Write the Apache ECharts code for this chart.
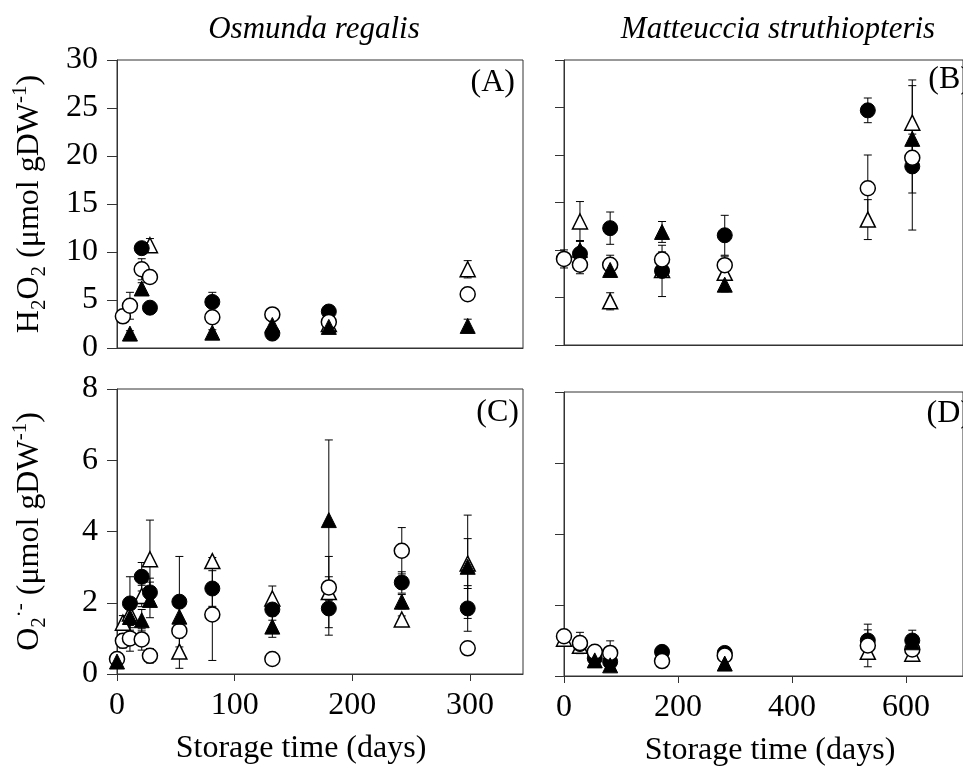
<!DOCTYPE html>
<html><head><meta charset="utf-8">
<script src="https://cdn.jsdelivr.net/npm/echarts@6/dist/echarts.min.js"></script>
<style>html,body{margin:0;padding:0;background:#fff}#c{width:963px;height:776px}</style>
</head><body><div id="c"></div>
<script>
// ---------- data ----------
const speciesTitles = ['Osmunda regalis', 'Matteuccia struthiopteris'];
const panelLabels = ['(A)', '(B)', '(C)', '(D)'];
const xTitle = 'Storage time (days)';

const osmundaDays = [0, 5, 11, 21, 28, 53, 81, 132, 180, 242, 298];
const matteucciaDays = [0, 28, 54, 81, 172, 282, 533, 611];

// Panel A: Osmunda regalis, H2O2
const A_filledCircle     = [null, null, null, 10.4, 4.2, null, 4.8, 1.5, 3.8, null, null];
const A_filledCircleErr  = [null, null, null, 0.5, 0.4, null, 1.0, 0.2, 0.3, null, null];
const A_openCircle       = [null, 3.3, 4.4, 8.2, 7.4, null, 3.2, 3.5, 2.7, null, 5.6];
const A_openCircleErr    = [null, 0.5, 1.4, 1.1, 0.5, null, 0.4, 0.3, 0.3, null, 0.4];
const A_filledTriangle   = [null, null, 1.5, 6.2, null, null, 1.6, 2.4, 2.2, null, 2.3];
const A_filledTriangleErr= [null, null, 0.3, 0.6, null, null, 0.3, 0.4, 0.3, null, 0.7];
const A_openTriangle     = [null, null, null, null, 10.7, null, null, null, 2.5, null, 8.2];
const A_openTriangleErr  = [null, null, null, null, 0.7, null, null, null, 0.3, null, 0.9];

// Panel B: Matteuccia struthiopteris, H2O2
const B_filledCircle     = [null, 9.6, null, 12.3, 7.8, 11.55, 24.7, 18.8];
const B_filledCircleErr  = [null, 0.5, null, 1.7, 2.7, 2.1, 1.3, 2.8];
const B_openCircle       = [9.06, 8.45, null, 8.45, 9.0, 8.4, 16.5, 19.7];
const B_openCircleErr    = [0.95, 0.95, null, 1.0, 0.8, 0.95, 3.5, 7.6];
const B_filledTriangle   = [null, 10.0, null, 7.9, 11.9, 6.35, null, 21.7];
const B_filledTriangleErr= [null, 1.0, null, 0.6, 1.1, 0.75, null, 0.5];
const B_openTriangle     = [null, 13.0, null, 4.6, 7.9, 7.6, 13.2, 23.4];
const B_openTriangleErr  = [null, 2.1, null, 0.9, 0.5, 0.5, 2.1, 4.5];

// Panel C: Osmunda regalis, O2.-
const C_filledCircle     = [null, null, 1.98, 2.73, 2.29, 2.03, 2.4, 1.81, 1.84, 2.57, 1.84];
const C_filledCircleErr  = [null, null, 0.75, 0.4, 0.4, 1.27, 0.5, 0.3, 0.75, 0.3, 0.64];
const C_openCircle       = [0.42, 0.93, 1.0, 0.97, 0.51, 1.21, 1.67, 0.42, 2.43, 3.46, 0.72];
const C_openCircleErr    = [0.1, 0.2, 0.36, 0.3, 0.2, 0.2, 1.29, 0.15, 0.3, 0.65, 0.1];
const C_filledTriangle   = [0.35, null, 1.6, 1.51, 2.08, 1.61, null, 1.33, 4.32, 2.03, 3.01];
const C_filledTriangleErr= [0.1, null, 0.3, 0.3, 0.5, 0.3, null, 0.3, 2.25, 0.2, 1.45];
const C_openTriangle     = [null, 1.44, 1.7, 2.19, 3.22, 0.63, 3.17, 2.12, 2.3, 1.53, 3.1];
const C_openTriangleErr  = [null, 0.2, 0.3, 0.3, 1.1, 0.47, 0.1, 0.35, 1.0, 0.1, 0.7];

// Panel D: Matteuccia struthiopteris, O2.-
const D_filledCircle     = [null, 0.9, 0.5, 0.4, 0.68, 0.65, 1.0, 1.0];
const D_filledCircleErr  = [null, 0.1, 0.1, 0.1, 0.1, 0.1, 0.3, 0.29];
const D_openCircle       = [1.12, 0.93, 0.68, 0.65, 0.42, 0.58, 0.86, 0.75];
const D_openCircleErr    = [0.1, 0.3, 0.1, 0.34, 0.1, 0.1, 0.6, 0.2];
const D_filledTriangle   = [null, null, 0.44, 0.3, null, 0.35, null, 0.95];
const D_filledTriangleErr= [null, null, 0.1, 0.1, null, 0.1, null, 0.1];
const D_openTriangle     = [1.05, 0.85, null, null, null, null, 0.68, 0.63];
const D_openTriangleErr  = [0.1, 0.2, null, null, null, null, 0.1, 0.1];

const osmundaTicks = [0, 100, 200, 300];
const matteucciaTicks = [0, 200, 400, 600];
const h2o2Ticks = [0, 5, 10, 15, 20, 25, 30];
const o2Ticks = [0, 2, 4, 6, 8];

// ---------- chart ----------
const FONT = "'Liberation Serif', 'Times New Roman', serif";
const LINE = '#333';
const chart = echarts.init(document.getElementById('c'), null, {renderer: 'canvas'});

function pts(days, vals) {
  const out = [];
  days.forEach((d, i) => { if (vals[i] != null) out.push([d, vals[i]]); });
  return out;
}
function errPts(days, vals, errs) {
  const out = [];
  days.forEach((d, i) => { if (vals[i] != null && errs[i] != null) out.push([d, vals[i], errs[i]]); });
  return out;
}
function renderErr(params, api) {
  const x = api.value(0), y = api.value(1), e = api.value(2);
  const t = api.coord([x, y + e]);
  const b = api.coord([x, Math.max(0, y - e)]);
  const hw = 4;
  const st = {stroke: '#000', lineWidth: 1};
  return {type: 'group', children: [
    {type: 'line', shape: {x1: t[0], y1: t[1], x2: b[0], y2: b[1]}, style: st},
    {type: 'line', shape: {x1: t[0] - hw, y1: t[1], x2: t[0] + hw, y2: t[1]}, style: st},
    {type: 'line', shape: {x1: b[0] - hw, y1: b[1], x2: b[0] + hw, y2: b[1]}, style: st}
  ]};
}

const markerStyles = {
  filledCircle:   {symbol: 'circle',   itemStyle: {color: '#000', borderColor: '#000', borderWidth: 1, opacity: 1}, z: 4},
  openCircle:     {symbol: 'circle',   itemStyle: {color: '#fff', borderColor: '#000', borderWidth: 1.5, opacity: 1}, z: 5},
  filledTriangle: {symbol: 'triangle', itemStyle: {color: '#000', borderColor: '#000', borderWidth: 1, opacity: 1}, z: 6},
  openTriangle:   {symbol: 'triangle', itemStyle: {color: '#fff', borderColor: '#000', borderWidth: 1.5, opacity: 1}, z: 3}
};

const panels = [
  {idx: 0, days: osmundaDays, sets: {
    filledCircle: [A_filledCircle, A_filledCircleErr], openCircle: [A_openCircle, A_openCircleErr],
    filledTriangle: [A_filledTriangle, A_filledTriangleErr], openTriangle: [A_openTriangle, A_openTriangleErr]}},
  {idx: 1, days: matteucciaDays, sets: {
    filledCircle: [B_filledCircle, B_filledCircleErr], openCircle: [B_openCircle, B_openCircleErr],
    filledTriangle: [B_filledTriangle, B_filledTriangleErr], openTriangle: [B_openTriangle, B_openTriangleErr]}},
  {idx: 2, days: osmundaDays, sets: {
    filledCircle: [C_filledCircle, C_filledCircleErr], openCircle: [C_openCircle, C_openCircleErr],
    filledTriangle: [C_filledTriangle, C_filledTriangleErr], openTriangle: [C_openTriangle, C_openTriangleErr]}},
  {idx: 3, days: matteucciaDays, sets: {
    filledCircle: [D_filledCircle, D_filledCircleErr], openCircle: [D_openCircle, D_openCircleErr],
    filledTriangle: [D_filledTriangle, D_filledTriangleErr], openTriangle: [D_openTriangle, D_openTriangleErr]}}
];

const series = [];
panels.forEach(p => {
  Object.keys(p.sets).forEach(k => {
    const [vals, errs] = p.sets[k];
    series.push({
      type: 'custom', xAxisIndex: p.idx, yAxisIndex: p.idx, renderItem: renderErr,
      data: errPts(p.days, vals, errs), encode: {x: 0, y: 1}, z: 2, silent: true, clip: false
    });
  });
  ['openTriangle', 'filledCircle', 'openCircle', 'filledTriangle'].forEach(k => {
    const [vals] = p.sets[k];
    const ms = markerStyles[k];
    series.push({
      type: 'scatter', name: k, xAxisIndex: p.idx, yAxisIndex: p.idx,
      data: pts(p.days, vals), symbol: ms.symbol, symbolSize: 15,
      itemStyle: ms.itemStyle, z: ms.z, silent: true, clip: false,
      emphasis: {disabled: true}
    });
  });
});

const grids = [
  {left: 117, top: 60, width: 406, height: 288},
  {left: 564, top: 60, width: 411, height: 285},
  {left: 117, top: 389, width: 406, height: 285},
  {left: 564, top: 392, width: 411, height: 284}
].map(g => Object.assign({show: true, borderColor: LINE, borderWidth: 1, backgroundColor: 'transparent'}, g));

const labelStyle = {color: '#000', fontFamily: FONT, fontSize: 32};

function xAxis(i) {
  const left = (i % 2 === 0);
  const bottom = (i >= 2);
  const ticks = left ? osmundaTicks : matteucciaTicks;
  return {
    type: 'value', gridIndex: i, min: 0, max: left ? 345 : 700, interval: ticks[1] - ticks[0],
    axisLine: {show: true, lineStyle: {color: LINE, width: 1}},
    axisTick: {show: bottom, length: 7, lineStyle: {color: LINE}},
    axisLabel: Object.assign({show: bottom, margin: 16, showMaxLabel: false}, labelStyle),
    splitLine: {show: false},
    name: bottom ? xTitle : '', nameLocation: 'middle', nameGap: 59,
    nameTextStyle: Object.assign({}, labelStyle, {padding: left ? [0, 38, 0, 0] : [0, 0, 0, 13]})
  };
}
const richName = {
  n: {fontFamily: FONT, fontSize: 32, color: '#000', lineHeight: 40},
  s: {fontFamily: FONT, fontSize: 21, color: '#000', lineHeight: 22, verticalAlign: 'bottom'},
  p: {fontFamily: FONT, fontSize: 21, color: '#000', lineHeight: 22, verticalAlign: 'top'}
};
function yAxis(i) {
  const left = (i % 2 === 0);
  const top = (i < 2);
  const ticks = top ? h2o2Ticks : o2Ticks;
  let name = '';
  if (left) name = top ? '{n|H}{s|2}{n|O}{s|2}{n| (μmol gDW}{p|-1}{n|)}' : '{n|O}{s|2}{p|·-}{n| (μmol gDW}{p|-1}{n|)}';
  return {
    type: 'value', gridIndex: i, min: 0, max: ticks[ticks.length - 1], interval: ticks[1] - ticks[0],
    axisLine: {show: true, lineStyle: {color: LINE, width: 1}},
    axisTick: {show: true, length: left ? 10 : 9, lineStyle: {color: LINE}},
    axisLabel: Object.assign({show: left, margin: 19}, labelStyle),
    splitLine: {show: false},
    name: name, nameLocation: 'middle', nameRotate: 90, nameGap: 67,
    nameTextStyle: {rich: richName}
  };
}

const graphic = [
  {type: 'text', style: {text: speciesTitles[0], x: 314, y: 30, textAlign: 'center', textVerticalAlign: 'middle', font: 'italic 31px ' + FONT, fill: '#000'}},
  {type: 'text', style: {text: speciesTitles[1], x: 778, y: 30, textAlign: 'center', textVerticalAlign: 'middle', font: 'italic 31px ' + FONT, fill: '#000'}},
  {type: 'text', style: {text: panelLabels[0], x: 515, y: 83, textAlign: 'right', textVerticalAlign: 'middle', font: '32px ' + FONT, fill: '#000'}},
  {type: 'text', style: {text: panelLabels[1], x: 971, y: 80, textAlign: 'right', textVerticalAlign: 'middle', font: '32px ' + FONT, fill: '#000'}},
  {type: 'text', style: {text: panelLabels[2], x: 519, y: 413, textAlign: 'right', textVerticalAlign: 'middle', font: '32px ' + FONT, fill: '#000'}},
  {type: 'text', style: {text: panelLabels[3], x: 971, y: 414, textAlign: 'right', textVerticalAlign: 'middle', font: '32px ' + FONT, fill: '#000'}}
];

chart.setOption({
  animation: false,
  backgroundColor: '#fff',
  grid: grids,
  xAxis: [0, 1, 2, 3].map(xAxis),
  yAxis: [0, 1, 2, 3].map(yAxis),
  series: series,
  graphic: graphic
});
</script></body></html>
